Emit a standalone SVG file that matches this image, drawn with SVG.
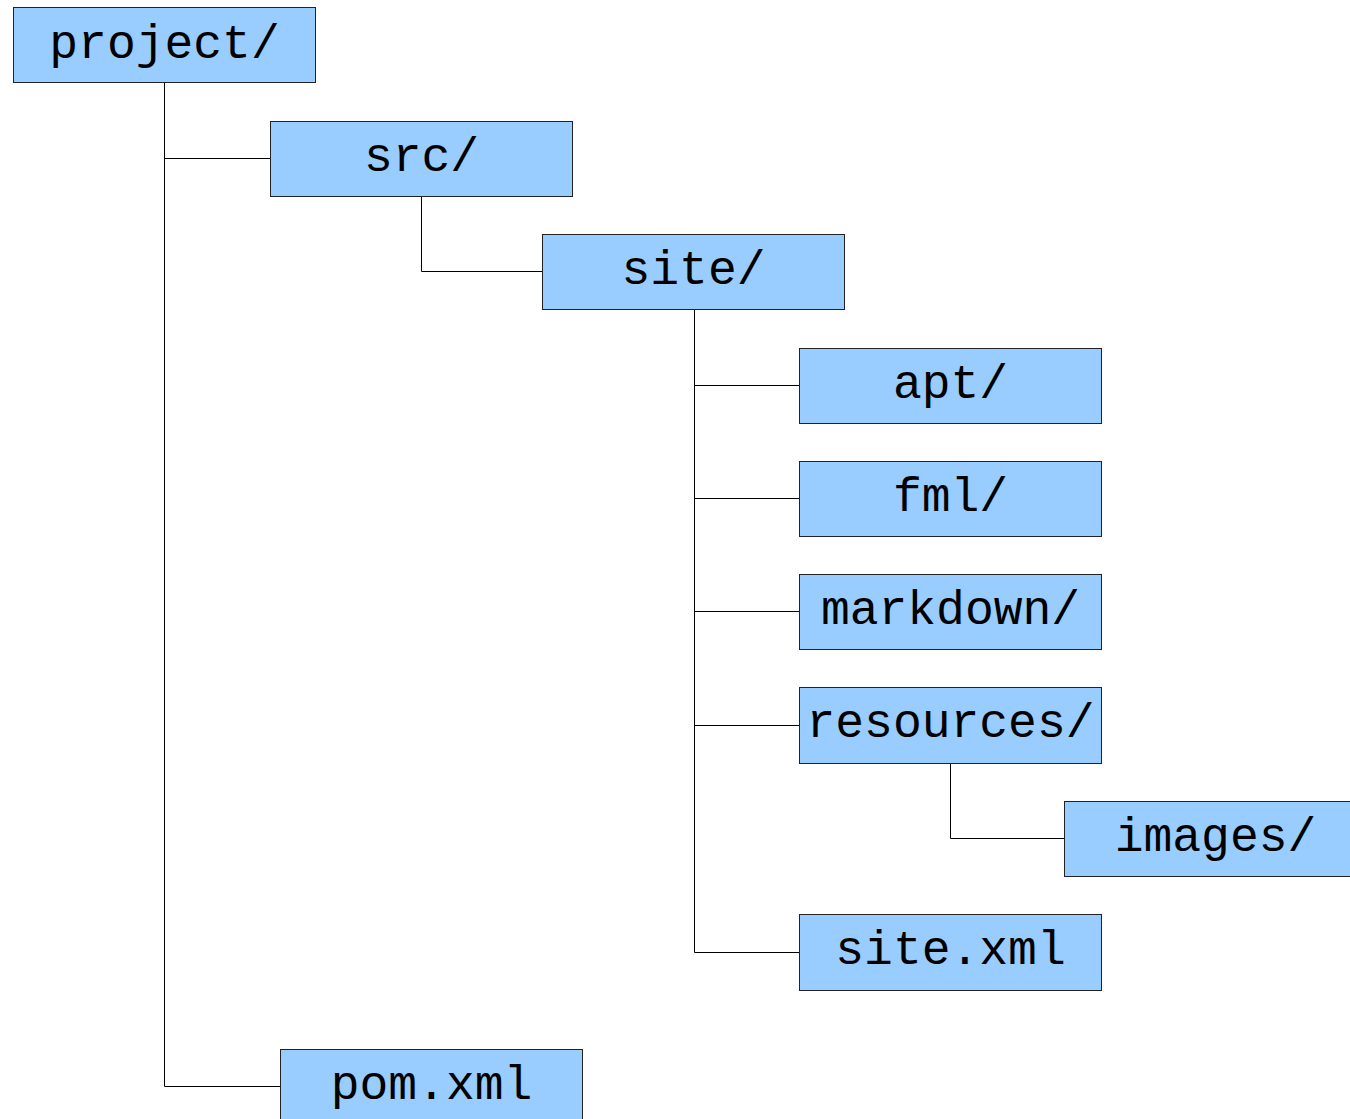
<svg xmlns="http://www.w3.org/2000/svg" width="1350" height="1119" viewBox="0 0 1350 1119">
<style>
.box{fill:#99ccff;stroke:#222;stroke-width:1}
.lbl{font-family:"Liberation Mono","DejaVu Sans Mono",monospace;font-size:48px;fill:#000;text-anchor:middle}
.conn{fill:none;stroke:#000;stroke-width:1}
</style>
<rect width="1350" height="1119" fill="#fff"/>
<g id="connectors">
<path class="conn" d="M164.5 82 V1086.5 H280"/>
<path class="conn" d="M164.5 158.5 H270"/>
<path class="conn" d="M421.5 196 V271.5 H542"/>
<path class="conn" d="M694.5 309 V952.5 H799"/>
<path class="conn" d="M694.5 385.5 H799"/>
<path class="conn" d="M694.5 498.5 H799"/>
<path class="conn" d="M694.5 611.5 H799"/>
<path class="conn" d="M694.5 725.5 H799"/>
<path class="conn" d="M950.5 763 V838.5 H1064"/>
</g>
<g id="project"><rect class="box" x="13.5" y="7.5" width="302" height="75"/><text class="lbl" x="164.5" y="58">project/</text></g>
<g id="src"><rect class="box" x="270.5" y="121.5" width="302" height="75"/><text class="lbl" x="421.5" y="171">src/</text></g>
<g id="site"><rect class="box" x="542.5" y="234.5" width="302" height="75"/><text class="lbl" x="693.5" y="284">site/</text></g>
<g id="apt"><rect class="box" x="799.5" y="348.5" width="302" height="75"/><text class="lbl" x="950.5" y="398">apt/</text></g>
<g id="fml"><rect class="box" x="799.5" y="461.5" width="302" height="75"/><text class="lbl" x="950.5" y="511">fml/</text></g>
<g id="markdown"><rect class="box" x="799.5" y="574.5" width="302" height="75"/><text class="lbl" x="950.5" y="624">markdown/</text></g>
<g id="resources"><rect class="box" x="799.5" y="687.5" width="302" height="76"/><text class="lbl" x="950.5" y="737">resources/</text></g>
<g id="images"><rect class="box" x="1064.5" y="801.5" width="302" height="75"/><text class="lbl" x="1215.5" y="851">images/</text></g>
<g id="site-xml"><rect class="box" x="799.5" y="914.5" width="302" height="76"/><text class="lbl" x="950.5" y="964">site.xml</text></g>
<g id="pom"><rect class="box" x="280.5" y="1049.5" width="302" height="75"/><text class="lbl" x="431.5" y="1099">pom.xml</text></g>
</svg>
